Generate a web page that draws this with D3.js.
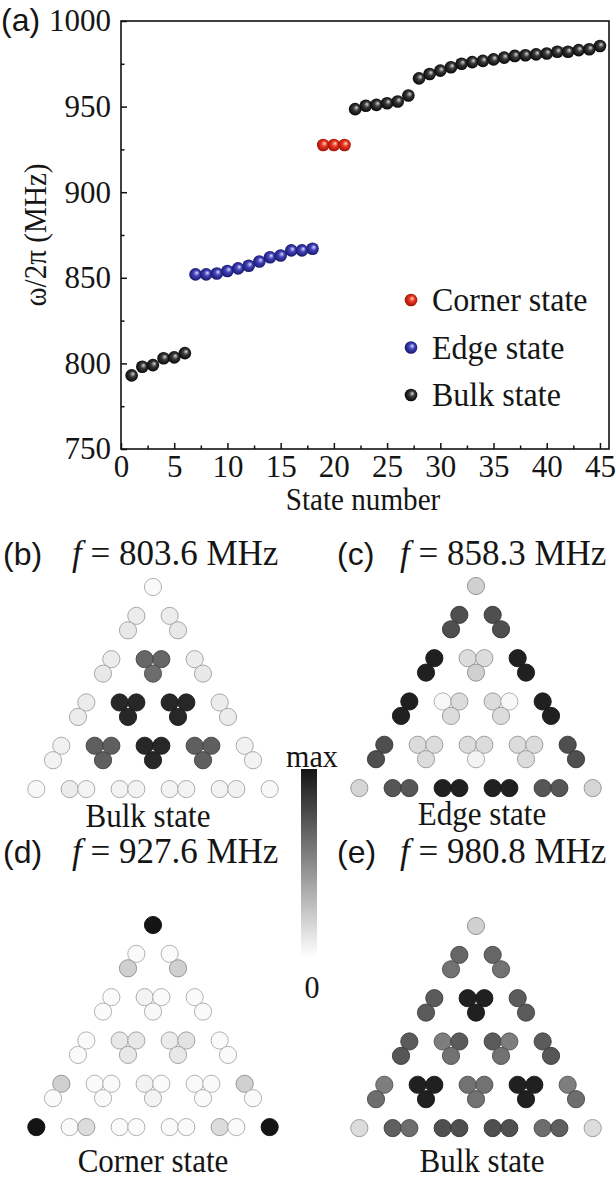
<!DOCTYPE html>
<html lang="en">
<head>
<meta charset="UTF-8">
<title>Breathing kagome eigenstates</title>
<script src="https://cdn.jsdelivr.net/npm/d3@7"></script>
<style>
  body { margin: 0; background: #fff; }
  svg text { font-family: "Liberation Serif", "Times New Roman", serif; fill: #151515; }
  svg text.sans, svg tspan.sans { font-family: "Liberation Sans", Arial, sans-serif; }
</style>
</head>
<body>
<svg id="fig" width="616" height="1178"></svg>
<script>
// ---- data: eigenfrequencies (MHz) of the 45 states ----
const stateFreq = [
  793, 798, 799, 803, 803.5, 806,
  852, 852, 852.5, 854, 855.5, 857, 859.5, 862, 863, 866, 866, 867,
  927.6, 927.6, 927.6,
  948.5, 950.5, 951, 952, 953, 956.5,
  966.5, 969, 971, 973, 975, 976, 976.7, 977.6, 978.6, 979.6, 980, 980.5,
  981, 982, 982, 983, 983.5, 985.4
];
const stateType = [
  "bulk","bulk","bulk","bulk","bulk","bulk",
  "edge","edge","edge","edge","edge","edge","edge","edge","edge","edge","edge","edge",
  "corner","corner","corner",
  "bulk","bulk","bulk","bulk","bulk","bulk",
  "bulk","bulk","bulk","bulk","bulk","bulk","bulk","bulk","bulk","bulk","bulk","bulk",
  "bulk","bulk","bulk","bulk","bulk","bulk"
];
const legendTypes = ["corner", "edge", "bulk"];
const legendLabels = ["Corner state", "Edge state", "Bulk state"];
const yTicks = [750, 800, 850, 900, 950, 1000];
const yMinor = [775, 825, 875, 925, 975];
const xTicks = [0, 5, 10, 15, 20, 25, 30, 35, 40, 45];
const xMinor = [2.5, 7.5, 12.5, 17.5, 22.5, 27.5, 32.5, 37.5, 42.5];

// ---- data: field intensity per site (0 = white, 1 = max), per cell [top, left, right]
// cells listed row by row: (0,0) (1,0) (1,1) (2,0) ... (4,4)
const fieldB = [
  0.02, 0.08, 0.08,
  0.10, 0.08, 0.65,   0.10, 0.65, 0.08,
  0.10, 0.08, 0.92,   0.62, 0.92, 0.92,   0.10, 0.92, 0.08,
  0.08, 0.06, 0.68,   0.92, 0.68, 0.92,   0.92, 0.92, 0.68,   0.08, 0.68, 0.06,
  0.05, 0.03, 0.08,   0.68, 0.05, 0.05,   0.92, 0.05, 0.05,   0.68, 0.05, 0.05,   0.05, 0.06, 0.03
];
const fieldC = [
  0.20, 0.75, 0.75,
  0.75, 0.95, 0.15,   0.75, 0.15, 0.95,
  0.95, 0.95, 0.03,   0.20, 0.15, 0.15,   0.95, 0.03, 0.95,
  0.95, 0.75, 0.15,   0.15, 0.15, 0.15,   0.15, 0.15, 0.15,   0.95, 0.15, 0.75,
  0.75, 0.18, 0.72,   0.15, 0.72, 0.95,   0.05, 0.95, 0.95,   0.15, 0.95, 0.72,   0.75, 0.72, 0.18
];
const fieldD = [
  1.00, 0.02, 0.02,
  0.20, 0.02, 0.05,   0.20, 0.02, 0.02,
  0.02, 0.02, 0.10,   0.03, 0.10, 0.08,   0.02, 0.12, 0.02,
  0.02, 0.20, 0.02,   0.10, 0.02, 0.05,   0.10, 0.02, 0.02,   0.02, 0.02, 0.20,
  0.02, 1.00, 0.02,   0.02, 0.15, 0.02,   0.05, 0.02, 0.02,   0.02, 0.02, 0.15,   0.02, 0.02, 1.00
];
const fieldE = [
  0.20, 0.65, 0.65,
  0.60, 0.70, 0.95,   0.60, 0.95, 0.70,
  0.70, 0.70, 0.55,   0.95, 0.70, 0.70,   0.70, 0.55, 0.70,
  0.72, 0.55, 0.95,   0.60, 0.95, 0.60,   0.60, 0.60, 0.95,   0.72, 0.95, 0.55,
  0.62, 0.15, 0.68,   0.95, 0.62, 0.75,   0.60, 0.75, 0.75,   0.95, 0.75, 0.62,   0.62, 0.68, 0.15
];
const panelTags = ["(b)", "(c)", "(d)", "(e)"];
const panelFreqs = ["803.6", "858.3", "927.6", "980.8"];
const panelNames = ["Bulk state", "Edge state", "Corner state", "Bulk state"];
const panelFields = [fieldB, fieldC, fieldD, fieldE];

// ---- layout ----
const SX = 0.94; // the reference lettering is slightly condensed
const svg = d3.select("#fig");
const defs = svg.append("defs");

function addText(parent, x, y, str, size, anchor, cls, sx) {
  return parent.append("text")
    .attr("class", cls || null)
    .attr("transform", `translate(${x},${y}) scale(${sx || SX},1)`)
    .attr("font-size", size)
    .attr("text-anchor", anchor || "start")
    .text(str);
}

// sphere-like gradients for the markers
const sphereColors = {
  corner: ["#ffd6c8", "#ee3522", "#8e1004"],
  edge:   ["#dcdcff", "#4242bc", "#12125e"],
  bulk:   ["#d8d8d8", "#3a3a3a", "#000000"]
};
Object.entries(sphereColors).forEach(([k, c]) => {
  const g = defs.append("radialGradient").attr("id", "sph-" + k)
    .attr("cx", 0.5).attr("cy", 0.5).attr("r", 0.55).attr("fx", 0.62).attr("fy", 0.36);
  g.append("stop").attr("offset", 0).attr("stop-color", c[0]);
  g.append("stop").attr("offset", 0.4).attr("stop-color", c[1]);
  g.append("stop").attr("offset", 1).attr("stop-color", c[2]);
});

// ---- panel (a) ----
const plot = { left: 121, right: 609, top: 21, bottom: 449 };
const x = d3.scaleLinear().domain([0, 45.85]).range([plot.left, plot.right]);
const y = d3.scaleLinear().domain([750, 1000]).range([plot.bottom, plot.top]);

const gA = svg.append("g");

const yAxis = gA.append("g").attr("transform", `translate(${plot.left},0)`)
  .call(d3.axisLeft(y).tickValues(yTicks).tickSize(-6).tickPadding(10).tickFormat(d3.format("d")));
gA.append("g").attr("transform", `translate(${plot.left},0)`)
  .call(d3.axisLeft(y).tickValues(yMinor).tickSize(-3.5).tickFormat(""));
const xAxis = gA.append("g").attr("transform", `translate(0,${plot.bottom})`)
  .call(d3.axisBottom(x).tickValues(xTicks).tickSize(-6).tickPadding(6).tickFormat(d3.format("d")));
gA.append("g").attr("transform", `translate(0,${plot.bottom})`)
  .call(d3.axisBottom(x).tickValues(xMinor).tickSize(-3.5).tickFormat(""));

gA.selectAll(".domain").remove();
gA.selectAll(".tick line").attr("stroke", "#111").attr("stroke-width", 1.5);
[yAxis, xAxis].forEach(ax => ax.selectAll("text")
  .attr("font-size", 31).attr("font-family", null).attr("fill", "#151515"));

gA.append("rect")
  .attr("x", plot.left).attr("y", plot.top)
  .attr("width", plot.right - plot.left).attr("height", plot.bottom - plot.top)
  .attr("fill", "none").attr("stroke", "#111").attr("stroke-width", 1.6);

gA.selectAll("circle.state")
  .data(stateFreq)
  .join("circle")
  .attr("class", "state")
  .attr("cx", (d, i) => x(i + 1))
  .attr("cy", d => y(d))
  .attr("r", 6.3)
  .attr("fill", (d, i) => `url(#sph-${stateType[i]})`);

// legend
const legend = gA.append("g");
legendTypes.forEach((t, i) => {
  const ly = 300 + i * 47.5;
  legend.append("circle").attr("cx", 411).attr("cy", ly).attr("r", 6.3)
    .attr("fill", `url(#sph-${t})`);
  addText(legend, 432, ly + 11, legendLabels[i], 33, "start", null, 0.97);
});

addText(gA, 363, 510, "State number", 31, "middle");
gA.append("text")
  .attr("transform", `translate(46,${(plot.top + plot.bottom) / 2}) rotate(-90) scale(${SX},1)`)
  .attr("font-size", 31).attr("text-anchor", "middle")
  .text("\u03c9/2\u03c0 (MHz)");
addText(gA, 1, 31, "(a)", 32, "start", "sans", 1);

// ---- panels (b)-(e): site intensity maps ----
const gray = d3.interpolateRgb("#ffffff", "#141414");
const panelLayout = [
  { tagX: 3,   fX: 72,  titleY: 565, cx: 153, top: 587, nameX: 148, nameY: 827 },
  { tagX: 337, fX: 400, titleY: 565, cx: 476, top: 586, nameX: 482, nameY: 825 },
  { tagX: 3,   fX: 72,  titleY: 863, cx: 153, top: 925, nameX: 153, nameY: 1172 },
  { tagX: 337, fX: 400, titleY: 863, cx: 476, top: 926, nameX: 482, nameY: 1172 }
];
const L = 50; // lattice constant in px
const s3 = Math.sqrt(3);
const siteOffsets = [[0, 0], [-1 / 3, s3 / 3], [1 / 3, s3 / 3]]; // top, left, right

panelFields.forEach((field, p) => {
  const lay = panelLayout[p];
  const g = svg.append("g");
  const u = d3.scaleLinear().domain([0, 1]).range([lay.cx, lay.cx + L]);
  const v = d3.scaleLinear().domain([0, 1]).range([lay.top, lay.top + L]);
  const sites = [];
  let k = 0;
  for (let r = 0; r < 5; r++) {
    for (let c = 0; c <= r; c++) {
      siteOffsets.forEach(o => {
        sites.push({ u: c - r / 2 + o[0], v: r * s3 / 2 + o[1], val: field[k++] });
      });
    }
  }
  g.selectAll("circle")
    .data(sites)
    .join("circle")
    .attr("cx", d => u(d.u))
    .attr("cy", d => v(d.v))
    .attr("r", 8.6)
    .attr("fill", d => gray(d.val))
    .attr("stroke", d => d3.color(gray(d.val)).darker(1.1))
    .attr("stroke-width", 0.9);

  // title: (x)   f = 000.0 MHz
  addText(g, lay.tagX, lay.titleY, panelTags[p], 32, "start", "sans", 1);
  const t = addText(g, lay.fX, lay.titleY, "", 35, "start", null, 1);
  t.append("tspan").attr("font-style", "italic").text("f");
  t.append("tspan").text(" = " + panelFreqs[p] + " MHz");

  addText(g, lay.nameX, lay.nameY, panelNames[p], 33, "middle");
});

// colour bar
const cbar = { x: 301, y: 769, w: 16, h: 188 };
const cg = defs.append("linearGradient").attr("id", "cbar")
  .attr("x1", 0).attr("y1", 0).attr("x2", 0).attr("y2", 1);
d3.range(0, 1.0001, 0.1).forEach(o => {
  cg.append("stop").attr("offset", o).attr("stop-color", gray(1 - o));
});
svg.append("rect")
  .attr("x", cbar.x).attr("y", cbar.y).attr("width", cbar.w).attr("height", cbar.h)
  .attr("fill", "url(#cbar)");
addText(svg, cbar.x + cbar.w / 2 + 3, cbar.y - 2, "max", 32, "middle");
addText(svg, cbar.x + cbar.w / 2 + 3, 998, "0", 32, "middle");
</script>
</body>
</html>
